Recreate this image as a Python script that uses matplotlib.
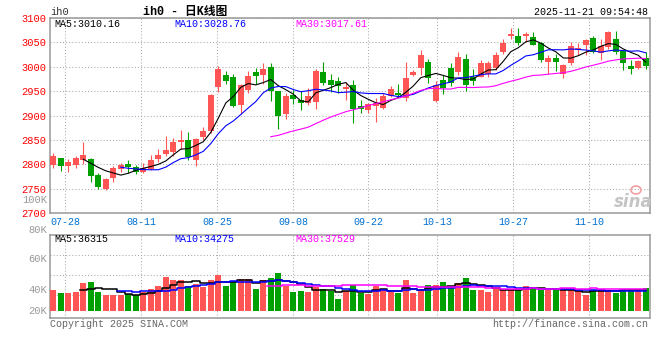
import matplotlib
matplotlib.use('Agg')
import matplotlib.pyplot as plt
import numpy as np
import pandas as pd
from matplotlib.patches import Ellipse

# ---------------- data ----------------
opens = [2798, 2813, 2796, 2799, 2810, 2812, 2778, 2749, 2772, 2790,
         2800, 2795, 2785, 2791, 2811, 2822, 2825, 2847, 2851, 2809,
         2857, 2868, 2958, 2984, 2980, 2921, 2952, 2990, 2984, 3000,
         2950, 2904, 2943, 2932, 2926, 2928, 2990, 2974, 2970, 2954,
         2962, 2919, 2912, 2920, 2915, 2940, 2947, 2936, 2983, 2997,
         3009, 2929, 2973, 2997, 2990, 3016, 2980, 2980, 2985, 2998,
         3030, 3064, 3064, 3063, 3062, 3049, 3010, 3019, 2985, 3007,
         3036, 3045, 3060, 3029, 3041, 3058, 3033, 3002, 2997, 3019]
highs = [2824, 2814, 2812, 2817, 2847, 2813, 2782, 2772, 2796, 2804,
         2809, 2798, 2804, 2820, 2832, 2859, 2854, 2871, 2866, 2855,
         2876, 2944, 3001, 2992, 2986, 2965, 2991, 2998, 3008, 3007,
         2951, 2947, 2952, 2950, 2957, 2996, 3010, 2986, 2980, 2969,
         2974, 2932, 2925, 2937, 2947, 2960, 2965, 3009, 2994, 3034,
         3016, 2970, 2983, 3007, 3030, 3026, 2995, 3013, 3011, 3030,
         3058, 3079, 3080, 3072, 3072, 3050, 3024, 3027, 3005, 3050,
         3048, 3056, 3064, 3058, 3074, 3074, 3034, 3015, 3014, 3031]
lows = [2793, 2786, 2784, 2792, 2800, 2764, 2749, 2748, 2765, 2784,
        2782, 2781, 2783, 2789, 2806, 2817, 2817, 2832, 2810, 2797,
        2851, 2865, 2948, 2965, 2917, 2904, 2947, 2964, 2965, 2930,
        2872, 2894, 2923, 2911, 2921, 2913, 2962, 2948, 2947, 2933,
        2884, 2905, 2905, 2888, 2913, 2938, 2940, 2930, 2981, 2983,
        2966, 2927, 2945, 2960, 2983, 2951, 2963, 2979, 2980, 2994,
        3027, 3057, 3045, 3051, 3044, 3010, 2986, 2992, 2978, 3004,
        3024, 3024, 3028, 3013, 3036, 3026, 2993, 2985, 2996, 2995]
closes = [2817, 2796, 2806, 2814, 2820, 2776, 2754, 2771, 2792, 2798,
          2795, 2784, 2792, 2810, 2820, 2830, 2847, 2850, 2815, 2853,
          2868, 2943, 2995, 2971, 2919, 2962, 2982, 2981, 2995, 2950,
          2899, 2941, 2935, 2926, 2940, 2992, 2967, 2962, 2960, 2958,
          2913, 2913, 2923, 2925, 2940, 2955, 2942, 2977, 2990, 3025,
          2977, 2963, 2957, 2966, 3021, 2962, 2970, 3007, 3007, 3025,
          3048, 3068, 3048, 3067, 3045, 3014, 3019, 3009, 3004, 3043,
          3039, 3055, 3031, 3042, 3071, 3031, 3008, 2996, 3012, 3002]
volumes = [36000, 30400, 30400, 32100, 47300, 49000, 32100, 26500, 27600, 26500,
           29300, 27600, 32100, 37700, 42200, 57400, 52900, 52900, 42200, 46200,
           40500, 52900, 61400, 42200, 51200, 54000, 54000, 37200, 52900, 55700,
           64200, 42200, 32100, 33800, 32100, 40500, 37200, 33800, 20800, 34300,
           44500, 30400, 29300, 41700, 37700, 32100, 30400, 52900, 30400, 33200,
           44500, 43400, 49000, 42200, 47300, 56300, 36000, 36000, 32100, 37700,
           34900, 37700, 34900, 42200, 40500, 34900, 34900, 34900, 34900, 34900,
           33200, 26500, 36000, 37700, 34900, 30400, 36000, 36000, 36600, 38800]

date_labels = ['07-28', '08-11', '08-25', '09-08', '09-22', '10-13', '10-27', '11-10']
date_pos = [1.6, 11.73, 21.87, 32.0, 42.0, 51.2, 61.33, 71.47]

price_ticks = [2700, 2750, 2800, 2850, 2900, 2950, 3000, 3050, 3100]
vol_label_text = ['100K', '80K', '60K', '40K', '20K']
vol_label_px = [200, 230, 259, 290, 311]

title_text = 'ih0 - 日K线图'
code_text = 'ih0'
time_text = '2025-11-21 09:54:48'
ma_price_text = ['MA5:3010.16', 'MA10:3028.76', 'MA30:3017.61']
ma_vol_text = ['MA5:36315', 'MA10:34275', 'MA30:37529']

# ---------------- styling ----------------
RED = '#ff5555'
GREEN = '#00a000'
GRID = '#aaaaaa'
FRAME = '#999999'
MONO = ['Liberation Mono', 'DejaVu Sans Mono']
TITLE_FONT = ['Liberation Mono', 'Noto Sans CJK SC', 'DejaVu Sans']
MA_COLORS = ['#000000', '#0000ff', '#ff00ff']

W, H = 660, 360
fig = plt.figure(figsize=(6.6, 3.6), dpi=100)
fig.patch.set_facecolor('white')


def fx(x):
    return x / W


def fy(y):
    return 1 - y / H


ax = fig.add_axes([fx(50), fy(213.3), 600 / W, (213.3 - 18) / H])
axv = fig.add_axes([fx(50), fy(318.3), 600 / W, (318.3 - 234.7) / H])

o = np.array(opens, float)
h = np.array(highs, float)
l = np.array(lows, float)
c = np.array(closes, float)
v = np.array(volumes, float)
idx = np.arange(len(c))
up = c >= o
cols = np.where(up, RED, GREEN)

# price panel
ax.vlines(idx, l, h, colors=cols, linewidth=0.8, zorder=3)
body_bot = np.minimum(o, c)
body_h = np.maximum(np.abs(c - o), 1.6)
ax.bar(idx, body_h, bottom=body_bot, width=0.8, color=cols, linewidth=0, zorder=4)

cs = pd.Series(c)
for n, col in zip([5, 10, 30], MA_COLORS):
    ax.plot(idx, cs.rolling(n).mean(), color=col, linewidth=0.8, zorder=5)

ax.set_xlim(-0.44, 79.56)
ax.set_ylim(2700, 3100)
ax.set_yticks(price_ticks)
ax.set_yticklabels([str(t) for t in price_ticks], color='#ff0000', fontsize=7.5, family=MONO)
ax.set_xticks(date_pos)
ax.set_xticklabels(date_labels, color='#0070d0', fontsize=7.2, family=MONO)
ax.tick_params(axis='both', length=0)
ax.tick_params(axis='y', pad=2.5)
ax.tick_params(axis='x', pad=2.5)
ax.grid(True, linestyle=(0, (1, 2)), color=GRID, linewidth=0.75, zorder=0)
ax.set_axisbelow(True)
for s in ax.spines.values():
    s.set_color(FRAME)
    s.set_linewidth(1.1)

# volume panel
axv.bar(idx, v, width=0.8, color=cols, linewidth=0, zorder=3)
vs = pd.Series(v)
for n, col in zip([5, 10, 30], MA_COLORS):
    axv.plot(idx, vs.rolling(n).mean(), color=col, linewidth=1.1,
             drawstyle='steps-mid', zorder=5)
axv.set_xlim(-0.44, 79.56)
axv.set_ylim(-12337, 128947)
axv.set_yticks([26533, 60333, 94133])
axv.set_yticklabels([])
axv.set_xticks(date_pos)
axv.set_xticklabels([])
axv.tick_params(axis='both', length=0)
axv.grid(True, linestyle=(0, (1, 2)), color=GRID, linewidth=0.75, zorder=0)
axv.set_axisbelow(True)
for s in axv.spines.values():
    s.set_color(FRAME)
    s.set_linewidth(1.1)

# texts
fig.text(fx(50), fy(12), code_text, fontsize=7.5, family=MONO, color='#333333', va='center', ha='left')
fig.text(fx(185), fy(12), title_text, fontsize=8.5, family=TITLE_FONT, color='#000000',
         va='center', ha='center', fontweight='bold')
fig.text(fx(648), fy(12), time_text, fontsize=7.2, family=MONO, color='#000000', va='center', ha='right')

for txt, col, xp in zip(ma_price_text, MA_COLORS, [54, 174, 295]):
    fig.text(fx(xp), fy(24), txt, fontsize=7.2, family=MONO, color=col, va='center', ha='left')
for txt, col, xp in zip(ma_vol_text, MA_COLORS, [54, 174, 295]):
    fig.text(fx(xp), fy(239.5), txt, fontsize=7.2, family=MONO, color=col, va='center', ha='left')

for txt, yp in zip(vol_label_text, vol_label_px):
    fig.text(fx(47), fy(yp), txt, fontsize=7.5, family=MONO, color='#999999', va='center', ha='right')

fig.text(fx(50), fy(324), 'Copyright 2025 SINA.COM', fontsize=7.2, family=MONO,
         color='#666666', va='center', ha='left')
fig.text(fx(648), fy(324), 'http://finance.sina.com.cn', fontsize=7.2, family=MONO,
         color='#666666', va='center', ha='right')

# sina watermark
fig.text(fx(633), fy(202), 'sina', fontsize=12, family='DejaVu Sans', fontstyle='italic',
         fontweight='bold', color='#c4c4c4', va='center', ha='center')
fig.patches.append(Ellipse((fx(636), fy(190)), 10 / W, 8 / H, transform=fig.transFigure,
                           facecolor='none', edgecolor='#f0a0a0', linewidth=1.2))

fig.savefig('out.png', dpi=100, facecolor='white')
